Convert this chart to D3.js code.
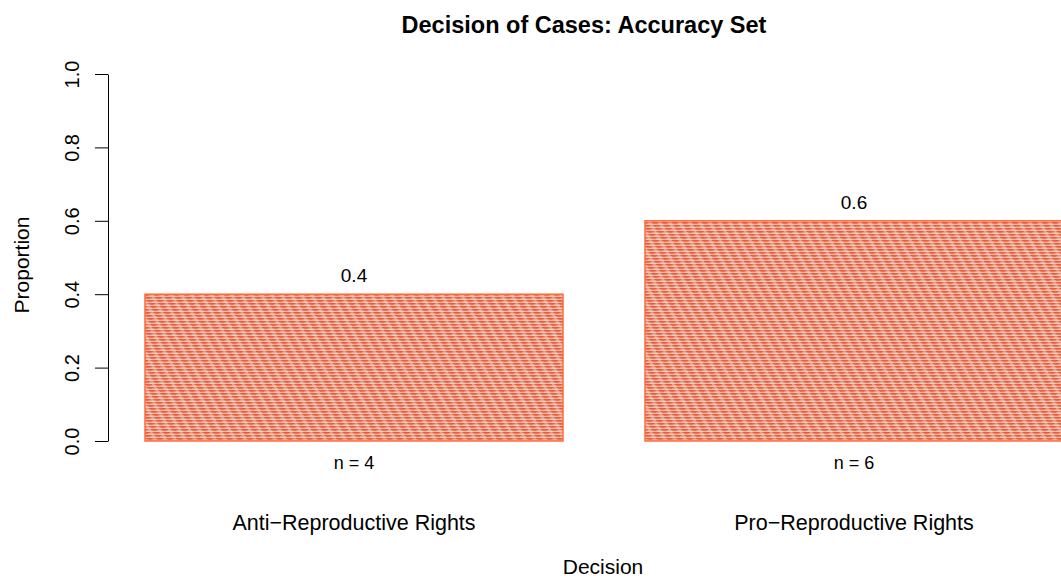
<!DOCTYPE html>
<html>
<head>
<meta charset="utf-8">
<script src="https://cdn.jsdelivr.net/npm/d3@7"></script>
<style>
  body { margin: 0; background: #fff; }
  text { font-family: "Liberation Sans", Arial, sans-serif; fill: #000; }
</style>
</head>
<body>
<svg id="chart"></svg>
<script>
// Chart data
var categories = ["Anti\u2212Reproductive Rights", "Pro\u2212Reproductive Rights"];
var proportions = [0.4, 0.6];
var counts = [4, 6];
var yTicks = [0, 0.2, 0.4, 0.6, 0.8, 1.0];

var svgWidth = 1061;
var svgHeight = 580;

var svg = d3.select("#chart")
  .attr("width", svgWidth)
  .attr("height", svgHeight);

// striped fill like R's shaded bars
var defs = svg.append("defs");
var pat = defs.append("pattern")
  .attr("id", "stripes")
  .attr("patternUnits", "userSpaceOnUse")
  .attr("width", 10)
  .attr("height", 3)
  .attr("patternTransform", "skewX(30)");
pat.append("rect").attr("width", 10).attr("height", 3).attr("fill", "#f2cabd");
pat.append("rect").attr("width", 10).attr("height", 1.4).attr("fill", "#ee5a36");
pat.append("rect").attr("x", 0).attr("y", 0).attr("width", 3).attr("height", 1.4).attr("fill", "#e99a85");
pat.append("rect").attr("x", 4).attr("y", 1.4).attr("width", 4).attr("height", 0.9).attr("fill", "#e57f66");

// Scales
var yScale = d3.scaleLinear().domain([0, 1]).range([441, 74]);
var xScale = d3.scaleBand()
  .domain(categories)
  .range([145, 1063])
  .paddingInner(0.164)
  .paddingOuter(0);

var data = categories.map(function (c, i) {
  return { cat: c, value: proportions[i], n: counts[i] };
});

// Bars
svg.selectAll(".bar")
  .data(data)
  .enter()
  .append("rect")
  .attr("class", "bar")
  .attr("x", function (d) { return xScale(d.cat); })
  .attr("y", function (d) { return yScale(d.value); })
  .attr("width", xScale.bandwidth())
  .attr("height", function (d) { return yScale(0) - yScale(d.value); })
  .attr("fill", "url(#stripes)")
  .attr("stroke", "#ff6a3a")
  .attr("stroke-width", 1.5);

// Value labels
svg.selectAll(".val")
  .data(data)
  .enter()
  .append("text")
  .attr("x", function (d) { return xScale(d.cat) + xScale.bandwidth() / 2; })
  .attr("y", function (d) { return yScale(d.value) - 12; })
  .attr("text-anchor", "middle")
  .style("font-size", "19px")
  .text(function (d) { return d.value; });

// n labels
svg.selectAll(".nlab")
  .data(data)
  .enter()
  .append("text")
  .attr("x", function (d) { return xScale(d.cat) + xScale.bandwidth() / 2; })
  .attr("y", 469)
  .attr("text-anchor", "middle")
  .style("font-size", "18px")
  .text(function (d) { return "n = " + d.n; });

// Category labels
svg.selectAll(".cat")
  .data(data)
  .enter()
  .append("text")
  .attr("x", function (d) { return xScale(d.cat) + xScale.bandwidth() / 2; })
  .attr("y", 530)
  .attr("text-anchor", "middle")
  .style("font-size", "21.5px")
  .text(function (d) { return d.cat; });

// Y axis
var yAxis = svg.append("g")
  .attr("transform", "translate(108,0)")
  .call(d3.axisLeft(yScale).tickValues(yTicks).tickSize(13).tickSizeOuter(0)
    .tickFormat(d3.format(".1f")));
yAxis.select(".domain").attr("stroke", "#000").attr("stroke-width", 1);
yAxis.selectAll(".tick line").attr("stroke", "#000");
yAxis.selectAll(".tick text")
  .attr("transform", "rotate(-90)")
  .attr("x", 0)
  .attr("y", -36.5)
  .attr("dy", "0.35em")
  .style("text-anchor", "middle")
  .style("font-size", "20px")
  .style("font-family", "'Liberation Sans', Arial, sans-serif");

// Titles
svg.append("text")
  .attr("x", 584)
  .attr("y", 33)
  .attr("text-anchor", "middle")
  .style("font-size", "23.5px")
  .style("font-weight", "bold")
  .text("Decision of Cases: Accuracy Set");

svg.append("text")
  .attr("transform", "translate(29,265) rotate(-90)")
  .attr("text-anchor", "middle")
  .style("font-size", "21px")
  .text("Proportion");

svg.append("text")
  .attr("x", 603)
  .attr("y", 574)
  .attr("text-anchor", "middle")
  .style("font-size", "21px")
  .text("Decision");
</script>
</body>
</html>
